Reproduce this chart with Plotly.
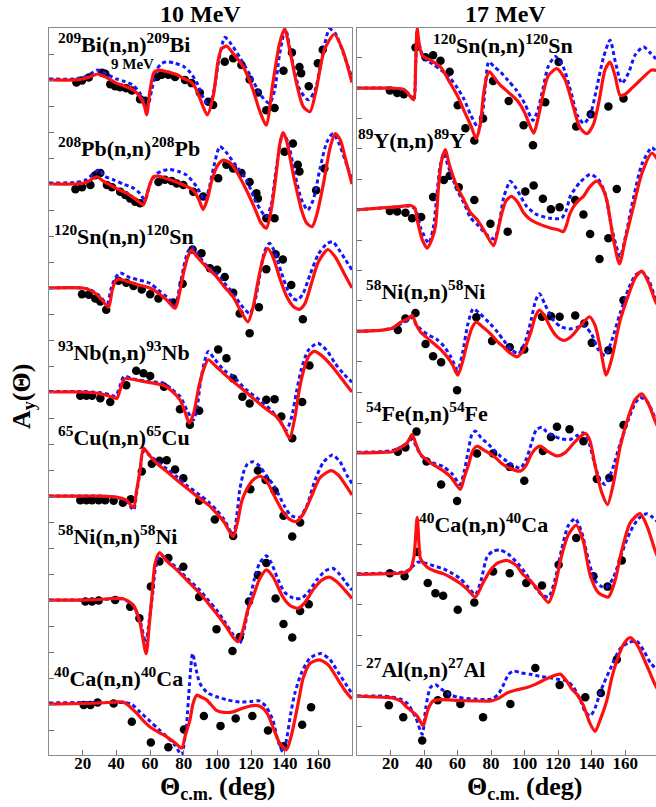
import plotly.graph_objects as go

W, H = 656, 807
FONT = "Liberation Serif"

# ---------------- data (angle in deg, A_y) ----------------
# LEFT PANEL: 10 MeV
BI209_RED = [(0,0),(15,0),(20,0.02),(25,0.07),(29,0.115),(34,0.05),(40,-0.06),(45,-0.12),(50,-0.19),(54,-0.32),(56.5,-0.48),(58,-0.67),(60,-0.2),(62.4,0.15),(65,0.19),(70,0.16),(76,0.1),(80,0.03),(84,-0.03),(87,-0.15),(89.6,-0.35),(94,-0.67),(97.5,-0.32),(100.5,0.38),(102.5,0.6),(105.6,0.65),(109.4,0.51),(115.3,0.26),(121.2,-0.19),(125,-0.58),(129,-0.87),(133,-0.06),(137,0.71),(140,0.98),(143,0.58),(147,-0.06),(151,-0.51),(155,-0.61),(158.7,-0.19),(163.6,0.58),(169.5,0.88),(174.4,0.58),(180,-0.05)]
BI209_BLUE = [(0,0.02),(15,0.02),(22,0.07),(29,0.19),(35,0.1),(40,0.02),(45,-0.03),(50,-0.1),(54,-0.25),(58.5,-0.5),(61,-0.2),(64,0.2),(67,0.32),(70,0.35),(75,0.32),(80,0.26),(84,0.14),(88,-0.06),(91,-0.3),(95,-0.5),(98,-0.2),(101,0.4),(104.5,0.82),(108,0.7),(114,0.4),(120,0.06),(126,-0.3),(131,-0.45),(134,-0.2),(137,0.5),(140.5,0.98),(144,0.45),(149,-0.19),(154,-0.38),(158,-0.2),(162,0.4),(166.6,0.98),(170,0.9),(175,0.5),(180,0.04)]
BI209_DOTS = [(16.3,-0.05),(19.6,-0.01),(23.6,0.05),(31.5,0.14),(33.4,0.12),(36.4,-0.08),(39.3,-0.12),(42.3,-0.14),(45.9,-0.16),(49.2,-0.2),(54.1,-0.37),(57.1,-0.4),(64,0.06),(67,0.1),(70.9,0.1),(74.9,0.06),(80.8,0),(84.7,-0.06),(89.6,-0.245),(94.6,-0.42),(97.5,-0.48),(104.4,0.35),(109.4,0.42),(114.3,0.29),(119.2,0.01),(124.1,-0.24),(129.1,-0.58),(134,-0.54),(139.3,0.18),(144.3,0.53),(148.8,0.25),(149.8,0.13),(154.3,-0.12),(159.7,0.32),(162.6,0.58)]

PB208_RED = [(0,0),(15,0),(22,0.03),(28.5,0.14),(32,0.06),(36.4,-0.02),(41,-0.1),(46.3,-0.18),(52.2,-0.31),(56.1,-0.4),(59,-0.1),(62,0.14),(65,0.15),(70,0.1),(77.8,0.01),(85.7,-0.12),(89,-0.3),(91.6,-0.49),(94,-0.3),(97,0.1),(100,0.35),(103.4,0.46),(108,0.4),(113,0.15),(117.3,-0.12),(122,-0.45),(126,-0.75),(129.1,-0.85),(132,-0.5),(135,0.2),(137,0.75),(139,0.99),(141,0.85),(145,0.2),(150,-0.5),(153,-0.75),(156.3,-0.82),(159,-0.6),(163,0),(167,0.7),(170,0.97),(173,0.85),(176,0.5),(180,0)]
PB208_BLUE = [(0,0.02),(15,0.03),(22,0.08),(29.5,0.27),(33,0.15),(38.4,0.08),(44,0.0),(50.2,-0.08),(54,-0.18),(57,-0.31),(60,0),(64,0.2),(68,0.26),(71.9,0.28),(77,0.24),(81.8,0.17),(87.7,-0.05),(92.6,-0.31),(95,-0.1),(98,0.35),(101.5,0.72),(105,0.62),(110,0.4),(117.3,0.08),(123,-0.35),(129,-0.63),(132,-0.4),(135,0.3),(139,0.97),(142,0.8),(146,0.2),(150,-0.3),(153.7,-0.5),(157,-0.3),(161,0.3),(165,0.8),(168.6,0.97),(172,0.8),(176,0.45),(180,0.08)]
PB208_DOTS = [(15.7,-0.1),(19.6,-0.06),(24.6,-0.02),(27.5,0.17),(30.5,0.21),(34.4,-0.02),(37.4,-0.06),(42.3,-0.15),(45.3,-0.21),(48.2,-0.28),(51.2,-0.34),(54.1,-0.37),(65,0.04),(68.9,0.08),(72.9,0.06),(75.9,0.01),(79.8,-0.02),(85.7,-0.15),(91.6,-0.24),(100.5,0.11),(105.4,0.37),(109.4,0.3),(114.3,0.21),(119.2,0.04),(123.2,-0.18),(124.1,-0.28),(129.1,-0.66),(134,-0.66),(139.9,0.62),(144.9,0.78),(147.8,0.37),(148.8,0.24),(158.7,-0.12),(163.6,0.3)]

SN120L_RED = [(0,0),(20,0),(25,-0.05),(28.5,-0.13),(32,-0.25),(35.4,-0.37),(37.5,-0.05),(39.3,0.12),(41.3,0.17),(46,0.13),(52,0.07),(60,0),(65,-0.1),(70,-0.23),(74.9,-0.39),(77.5,-0.1),(80,0.3),(82.5,0.6),(84.7,0.73),(88,0.6),(93,0.42),(99.5,0.22),(104,0.03),(109.4,-0.17),(114,-0.45),(118.2,-0.65),(121,-0.4),(124,0.1),(127,0.55),(130,0.76),(133,0.6),(137,0.2),(141,-0.15),(145,-0.35),(148.8,-0.41),(152,-0.3),(156,0.1),(160,0.5),(165.6,0.74),(170,0.6),(175,0.3),(180,0)]
SN120L_BLUE = [(0,0),(20,0),(25,-0.04),(30,-0.15),(34.5,-0.3),(37,0),(39.5,0.2),(42.3,0.29),(48,0.2),(54,0.15),(60,0.09),(65,-0.04),(70,-0.17),(74.9,-0.33),(77.5,0),(80,0.4),(82.5,0.7),(84.7,0.79),(88,0.66),(93,0.45),(99.5,0.28),(104,0.1),(109.4,-0.1),(114,-0.32),(119.2,-0.49),(122,-0.3),(125,0.2),(128,0.7),(131,0.86),(134,0.7),(138,0.3),(142,-0.05),(145,-0.2),(147.8,-0.23),(151,-0.1),(155,0.25),(160,0.65),(165,0.85),(168.5,0.89),(172,0.75),(176,0.55),(180,0.35)]
SN120L_DOTS = [(19.6,-0.12),(23.6,-0.13),(27.5,-0.2),(30.5,-0.26),(34,-0.42),(41.3,0.14),(45.9,0.1),(50.2,0.04),(55.1,-0.03),(60.1,-0.12),(65,-0.2),(73.8,-0.28),(79.4,0.08),(85.3,0.74),(90.6,0.67),(95.6,0.38),(99.9,0.35),(104.4,0.21),(109.4,-0.09),(113.3,-0.49),(119.2,-0.87),(124.7,-0.37),(129.1,0.36),(134.6,0.65),(138.9,0.55),(143.9,0.06),(150.8,-0.6)]

NB93_RED = [(0,0),(20,0),(30,-0.03),(36,-0.08),(40.3,-0.12),(42.3,0.05),(44.3,0.23),(46,0.26),(55,0.21),(62,0.17),(68,0.13),(73,0.02),(77.8,-0.15),(81,-0.4),(83.3,-0.6),(86,-0.4),(89,0.1),(92,0.45),(94.6,0.62),(99,0.5),(104,0.35),(109.4,0.2),(117,0),(125,-0.22),(130,-0.35),(135,-0.47),(139,-0.65),(142.9,-0.89),(146,-0.5),(149,0.1),(152,0.5),(154.5,0.7),(157.7,0.78),(162,0.7),(168,0.5),(174,0.25),(180,0)]
NB93_BLUE = [(0,0.01),(20,0.01),(30,-0.01),(36,-0.05),(39.5,-0.08),(42,0.1),(44.5,0.3),(50,0.25),(60,0.2),(68,0.17),(73,0.05),(77.8,-0.08),(82,-0.35),(85.7,-0.54),(88,-0.3),(90,0.2),(92.5,0.6),(94.6,0.78),(98,0.65),(104,0.42),(109.4,0.3),(117,0.05),(125,-0.15),(132,-0.35),(137,-0.55),(141,-0.73),(144,-0.5),(147,0),(150,0.45),(154,0.8),(159.7,0.94),(165,0.8),(170,0.55),(175,0.35),(180,0.19)]
NB93_DOTS = [(18.6,-0.07),(22.2,-0.07),(25.6,-0.07),(30.5,-0.12),(36.4,-0.19),(45.9,0.13),(51.8,0.41),(56.1,0.36),(60.1,0.31),(68.3,0.1),(77.8,-0.33),(83.7,-0.63),(89.2,-0.36),(100.5,0.82),(105.4,0.65),(109.4,0.26),(114.9,-0.09),(119.2,-0.22),(129.1,-0.15),(134,-0.14),(138,-0.47),(144.5,-0.89),(150.4,-0.19),(154.7,0.51)]

CU65_RED = [(0,0),(20,0),(30,0),(40,-0.02),(46,-0.08),(50.2,-0.22),(52,0.1),(54.1,0.5),(56.1,0.92),(60,0.77),(64,0.63),(70,0.47),(75.9,0.31),(82,0.15),(89.6,-0.05),(95,-0.18),(99.5,-0.33),(104,-0.5),(109.4,-0.78),(112,-0.5),(114.5,-0.1),(117.3,0.12),(121,0.3),(125.1,0.38),(129,0.3),(134,-0.01),(139,-0.3),(143,-0.45),(146.9,-0.49),(151,-0.35),(156,0),(161,0.35),(167.6,0.49),(172,0.4),(176,0.22),(180,0.02)]
CU65_BLUE = [(0,0),(20,0),(30,0),(40,-0.03),(46,-0.1),(50.2,-0.27),(52,0.05),(54,0.45),(56.1,0.86),(60,0.78),(64,0.67),(70,0.52),(75.9,0.37),(82,0.2),(89.6,0.02),(95,-0.12),(99.5,-0.27),(104,-0.45),(109.4,-0.75),(111.5,-0.4),(113.3,0.12),(116,0.5),(118,0.62),(121.2,0.66),(125,0.58),(129,0.4),(134,0.18),(140,-0.2),(144,-0.38),(148.8,-0.41),(153,-0.2),(158,0.3),(163,0.65),(168.5,0.79),(173,0.65),(177,0.4),(180,0.24)]
CU65_DOTS = [(18.6,-0.08),(22.2,-0.08),(25.6,-0.08),(29.5,-0.08),(33.4,-0.08),(38.4,-0.09),(43.9,-0.13),(48.6,-0.06),(55.1,0.47),(61.1,0.62),(65.6,0.68),(69.9,0.69),(74.9,0.51),(79.8,0.34),(89.2,-0.09),(98.5,-0.45),(109.4,-0.77),(119.6,0.13),(124.1,0.49),(128.7,0.31),(134,0.1),(139.3,-0.38),(144.5,-0.78),(149.2,-0.51)]

NI58L_RED = [(0,0),(20,0),(30,0.01),(38,0.03),(43.6,0.03),(47,-0.02),(50.2,-0.1),(54.1,-0.45),(57.7,-1.03),(59.5,-0.5),(61.1,0.06),(63,0.7),(65.6,0.91),(70,0.75),(75.9,0.58),(82,0.38),(89.6,0.13),(95,-0.08),(99.5,-0.26),(105,-0.5),(109,-0.7),(112.3,-0.8),(115,-0.6),(118,-0.2),(121.2,0.06),(125,0.4),(129.1,0.58),(133,0.45),(138.9,0.06),(143,-0.1),(147.8,-0.16),(152,-0.05),(157,0.2),(162,0.38),(166.6,0.44),(171,0.35),(176,0.18),(180,0.03)]
NI58L_BLUE = [(0,0),(20,0),(30,0.01),(38,0.02),(44,0.02),(47,-0.03),(51,-0.15),(54.5,-0.45),(57.5,-0.83),(59.5,-0.4),(61.5,0.1),(63.5,0.65),(66.5,0.87),(70,0.77),(75.9,0.62),(82,0.42),(89.6,0.19),(95,-0.02),(99.5,-0.19),(105,-0.45),(109,-0.65),(113.3,-0.83),(116,-0.55),(119,-0.05),(122,0.4),(125,0.7),(129.1,0.85),(132,0.72),(136,0.4),(140,0.15),(145,0.04),(149.8,0.03),(154,0.15),(159,0.38),(164,0.56),(168.5,0.61),(172,0.52),(176,0.35),(180,0.19)]
NI58L_DOTS = [(21.6,-0.03),(25.6,-0.03),(29.5,-0.01),(39.3,0),(48.2,-0.13),(53.7,-0.35),(60.5,0.26),(65.6,0.74),(70.9,0.81),(79.8,0.64),(89.2,0.06),(99.5,-0.56),(109,-0.98),(113.3,-0.71),(118.8,-0.03),(124.1,0.48),(129.1,0.71),(134.6,0.03),(139.3,-0.46),(144.5,-0.72),(149.2,-0.21),(154.3,-0.08)]

CA40L_RED = [(0,0),(20,0.01),(30,0.02),(40,0.04),(44,0.04),(48,-0.05),(52.2,-0.18),(56,-0.32),(60,-0.44),(65,-0.54),(70,-0.63),(75,-0.75),(78.8,-0.85),(81,-0.6),(83.7,-0.31),(85.5,0),(87.7,0.17),(90,0.14),(93.6,0.08),(99.5,-0.12),(104,-0.16),(109.4,-0.15),(115,-0.08),(121.2,-0.03),(124,-0.03),(127.1,-0.08),(130,-0.2),(133,-0.44),(137,-0.75),(141,-0.88),(144,-0.6),(148.4,0.08),(151,0.5),(155,0.78),(160.7,0.85),(166,0.75),(172,0.45),(176,0.25),(180,0.1)]
CA40L_BLUE = [(0,0.02),(20,0.03),(30,0.03),(40,0.03),(45,0.03),(49,0),(54,-0.15),(60,-0.33),(65,-0.48),(70,-0.63),(75,-0.8),(78.8,-0.98),(80.5,-0.7),(81.8,-0.37),(83.5,0.4),(85.3,0.97),(87.5,0.65),(89.6,0.4),(94,0.22),(99.5,0.14),(106,0.08),(113.3,0.04),(120,0.05),(125,0.06),(129,-0.05),(133,-0.31),(136,-0.7),(138.9,-0.92),(141,-0.7),(143.5,-0.2),(146,0.2),(150,0.6),(155,0.88),(161.7,0.97),(167,0.85),(172,0.6),(176,0.4),(180,0.2)]
CA40L_DOTS = [(20.6,-0.02),(24.6,-0.02),(28.9,0.03),(38.4,0.01),(49.2,-0.34),(60.5,-0.74),(70.9,-0.83),(80.2,-0.49),(92,-0.23),(101.9,-0.42),(110.9,-0.28),(120.8,-0.23),(130.1,-0.51),(139.3,-0.81),(150.4,-0.4),(155.7,-0.06)]

# RIGHT PANEL: 17 MeV
SN120R_RED = [(0,0),(20,0),(28,-0.02),(31.9,-0.14),(33.9,-0.19),(35,0.4),(35.9,0.98),(37,0.75),(38.9,0.54),(43.8,0.46),(49.8,0.35),(55.7,0.08),(60,-0.13),(63.7,-0.36),(68,-0.62),(71.2,-0.83),(73.5,-0.6),(75.5,-0.1),(77.5,0.2),(79.2,0.27),(82,0.17),(85.5,0.05),(90,-0.06),(95.5,-0.2),(100,-0.4),(105.4,-0.74),(108,-0.5),(111,-0.1),(114,0.2),(119.3,0.32),(124,0.15),(129,-0.3),(133,-0.65),(137.2,-0.75),(141,-0.6),(144.5,-0.2),(148,0.3),(151,0.43),(154,0.2),(157,-0.12),(160,-0.1),(164,0.0),(168.9,0.13),(175.9,0.3),(180,0.28)]
SN120R_BLUE = [(0,0),(20,0),(28,-0.03),(31.9,-0.12),(33.9,-0.2),(35,0.4),(35.9,0.96),(37,0.72),(40,0.5),(45,0.4),(50,0.3),(55.7,0.16),(60,0),(64,-0.19),(68,-0.45),(72.6,-0.66),(75,-0.4),(76.8,0.1),(78.6,0.43),(82,0.35),(85.5,0.27),(90,0.13),(95,-0.03),(100,-0.25),(105,-0.53),(108,-0.35),(111,0),(114,0.35),(118.3,0.52),(123,0.35),(128,-0.1),(131.5,-0.45),(135.2,-0.58),(139,-0.45),(143,0),(147,0.5),(151,0.79),(154,0.45),(158,0.08),(162,0.25),(166,0.55),(170.9,0.68),(175,0.58),(180,0.43)]
SN120R_DOTS = [(19.6,-0.04),(24,-0.08),(27.9,-0.1),(34.9,0.67),(40.9,0.51),(45.4,0.54),(49.8,0.45),(55.3,0.27),(60.1,-0.28),(64.7,-0.66),(70,-0.86),(75.2,-0.5),(81.2,0.12),(90.5,-0.21),(99.4,-0.61),(105,-0.94),(112.3,-0.23),(120.3,0.43),(130.8,-0.63),(139.5,-0.43),(150,-0.3),(159,-0.17)]

Y89_RED = [(0,0),(15,0.03),(25,0.05),(32,0.07),(34.5,0.03),(35.9,-0.16),(38.9,-0.49),(41.9,-0.63),(44.5,-0.5),(46.8,-0.27),(48.8,0.44),(50.8,0.85),(52.8,0.99),(55,0.75),(59.7,0.38),(64,0.15),(67.7,-0.05),(71.6,-0.16),(76,-0.35),(81.5,-0.59),(84,-0.35),(86.5,-0.05),(89,0.15),(92.1,0.22),(96,0.12),(99.4,-0.05),(103.4,-0.16),(107.4,-0.22),(115.3,-0.3),(120,-0.33),(123.2,-0.36),(125,-0.25),(127.2,-0.05),(131,0.12),(135.1,0.22),(139,0.38),(143.1,0.47),(146,0.38),(149,0.16),(153,-0.49),(156.6,-0.89),(160,-0.5),(164.9,0.05),(170,0.6),(175.9,0.93),(180,0.8)]
Y89_BLUE = [(0,0),(15,0.03),(25,0.05),(32,0.06),(35,0.0),(38,-0.3),(42.8,-0.55),(45.5,-0.3),(47.5,0.2),(49.5,0.7),(51.8,0.93),(54,0.75),(59.7,0.33),(64,0.1),(67.7,-0.13),(72,-0.25),(77,-0.4),(82,-0.48),(85,-0.2),(87.5,0.2),(91.5,0.47),(95,0.35),(101.4,0.05),(107.4,-0.08),(115.3,-0.14),(122,-0.14),(125,0.0),(127.2,0.22),(133,0.45),(139.1,0.58),(144,0.5),(148,0.27),(152,-0.3),(157,-0.77),(160.5,-0.4),(165,0.2),(170,0.75),(175.9,1.02),(180,0.9)]
Y89_DOTS = [(19.6,-0.02),(24,-0.03),(28.9,-0.05),(32.9,-0.14),(38.3,-0.12),(45.4,0.21),(51.8,0.49),(55.3,0.56),(60.7,0.37),(70,0.16),(79.6,-0.23),(89.9,-0.36),(100.4,0.3),(105.4,0.4),(110.9,0.18),(115.7,0.01),(120.9,0.04),(130.2,0.16),(135.1,-0.08),(139.1,-0.4),(144.7,-0.81),(150,-0.47),(155,0.34)]

NI58R_RED = [(0,0),(15,0.02),(21,0.05),(26,0.15),(30,0.2),(32.9,0.26),(35.5,0.1),(37.9,-0.01),(41.5,-0.1),(45.8,-0.2),(50,-0.3),(53.8,-0.42),(57,-0.55),(60.1,-0.72),(63,-0.5),(65.7,-0.2),(68.5,0.05),(71.2,0.15),(75,0.07),(79.6,-0.04),(83.5,-0.16),(87.5,-0.26),(91.5,-0.36),(95.5,-0.42),(99.5,-0.3),(103.4,-0.04),(106.5,0.25),(108.9,0.35),(112,0.25),(115.3,0.07),(119,-0.08),(123.2,-0.15),(128,-0.08),(133,0.08),(138.7,0.24),(142,0.1),(145,-0.25),(148.7,-0.72),(152,-0.45),(157,0.18),(162,0.6),(166,0.88),(169.9,0.99),(174,0.8),(177.8,0.51),(180,0.4)]
NI58R_BLUE = [(0,0),(15,0.02),(21,0.05),(26,0.12),(30,0.18),(32.9,0.23),(35.5,0.1),(37.9,0.04),(42,-0.05),(47.5,-0.13),(52,-0.25),(56,-0.42),(60.1,-0.64),(63,-0.35),(66,0.1),(69.3,0.37),(73,0.3),(79.6,0.12),(84,-0.02),(87.5,-0.15),(92,-0.3),(96.4,-0.37),(100,-0.2),(104,0.2),(106.5,0.5),(108.9,0.62),(112,0.45),(117.3,0.18),(122,0.07),(127.2,0.04),(131,0.06),(135.1,0.1),(140,-0.05),(144,-0.3),(148.1,-0.4),(152,-0.15),(157,0.3),(162,0.7),(166,0.92),(169.9,0.98),(174,0.85),(177.8,0.56),(180,0.45)]
NI58R_DOTS = [(24.4,0.02),(28.9,0.21),(34.9,0.3),(40.9,-0.21),(45.4,-0.41),(50.2,-0.51),(59.7,-0.97),(71.2,0.23),(80.6,-0.16),(91.1,-0.26),(99.8,-0.3),(110.4,0.24),(115.7,0.25),(120.9,0.24),(130.2,0.26),(135.6,0.13),(140.1,-0.19),(150,-0.31),(159,0.51)]

FE54_RED = [(0,0),(15,0.01),(21,0.02),(26,0.09),(30,0.17),(32.9,0.3),(35.5,0.12),(37.9,-0.02),(43.8,-0.16),(51.8,-0.3),(56,-0.4),(61.7,-0.6),(64,-0.4),(66.5,-0.2),(69,0.03),(71.6,0.11),(76,0.04),(81.5,-0.05),(85,-0.14),(89.5,-0.23),(97.4,-0.3),(101,-0.2),(104,-0.02),(107,0.08),(109.4,0.11),(113,0.04),(119.3,-0.05),(124,0.0),(130,0.18),(136.2,0.32),(139,0.2),(142,-0.2),(146,-0.65),(149.5,-0.85),(153,-0.5),(157,0.1),(162,0.6),(166,0.88),(169.9,0.97),(174,0.8),(177.8,0.53),(180,0.4)]
FE54_BLUE = [(0,0.01),(15,0.02),(21,0.04),(26,0.09),(30,0.15),(32.9,0.23),(35.5,0.1),(38.5,-0.05),(44,-0.15),(51.8,-0.23),(57,-0.35),(61.5,-0.52),(64,-0.3),(66.5,0.05),(68.5,0.3),(70.6,0.36),(74,0.25),(79.6,0.11),(85,-0.04),(89.5,-0.14),(97.4,-0.25),(101,-0.1),(104,0.15),(107,0.38),(110.4,0.42),(113,0.35),(117.3,0.28),(122,0.23),(127.2,0.22),(131,0.28),(135.1,0.33),(138,0.2),(142,-0.2),(145,-0.45),(148.1,-0.52),(152,-0.3),(157,0.15),(162,0.55),(166,0.82),(168.9,0.91),(173,0.85),(177.8,0.58),(180,0.45)]
FE54_DOTS = [(24.4,0.02),(28.9,0.09),(35.5,0.35),(41.5,-0.14),(50.2,-0.52),(59.7,-0.79),(71.6,-0.01),(81.2,-0.01),(91.1,-0.23),(99.8,-0.46),(110.9,0.03),(115.7,0.26),(119.3,0.43),(126.8,0.39),(135.1,0.19),(143.1,-0.43),(150.6,-0.41),(159,0.46)]

CA40R_RED = [(0,0),(15,0.01),(25,0.02),(30,0.05),(31.9,0.09),(34,0.3),(35.9,0.94),(37,0.5),(37.9,0.26),(41.9,0.12),(46,0.06),(51.8,0.01),(56,-0.05),(61.7,-0.15),(66,-0.25),(70.6,-0.37),(75,-0.15),(79.6,0.07),(84,0.19),(89.5,0.23),(95,0.15),(99,0.0),(103.4,-0.1),(108,-0.25),(114.3,-0.46),(118,-0.2),(122,0.3),(126,0.65),(130.8,0.81),(135,0.55),(139,0.0),(144,-0.3),(150,-0.37),(154,-0.1),(158,0.4),(163,0.85),(168.9,1.0),(173,0.8),(177.8,0.4),(180,0.25)]
CA40R_BLUE = [(0,0.01),(15,0.02),(25,0.03),(30,0.06),(32,0.1),(35.9,0.2),(38.5,0.2),(41.9,0.18),(46,0.14),(51.8,0.09),(56,0.03),(61.7,-0.07),(66,-0.2),(70.6,-0.33),(74,-0.1),(77.6,0.29),(81,0.38),(85.5,0.4),(90,0.34),(96,0.18),(101,0.0),(106,-0.2),(110,-0.33),(114.3,-0.37),(118,-0.1),(122,0.4),(126,0.8),(130.2,0.92),(134,0.7),(138,0.25),(142,-0.1),(146,-0.2),(149.1,-0.21),(153,-0.05),(158,0.35),(163,0.7),(168,0.92),(172.9,1.0),(176,0.95),(180,0.85)]
CA40R_DOTS = [(19.6,0.02),(28.4,-0.03),(35.9,0.37),(42.2,-0.14),(46.8,-0.31),(51.4,-0.35),(60.1,-0.58),(70,-0.46),(81.2,0.05),(91.1,0.02),(101,-0.14),(110.4,-0.18),(120.3,0.16),(130.8,0.6),(141.1,-0.03),(149.5,-0.2),(158,0.23)]

AL27_RED = [(0,0),(15,-0.02),(21,-0.03),(26,-0.08),(30,-0.19),(35.9,-0.33),(39.5,-0.49),(41,-0.35),(42.8,-0.19),(45.5,-0.08),(50,-0.06),(60,-0.07),(70,-0.08),(80,-0.08),(85,-0.03),(89.5,0.05),(95,0.1),(101.4,0.14),(107,0.2),(112,0.27),(117,0.33),(121.3,0.36),(125,0.25),(128,0.12),(131.2,0.03),(135,-0.15),(139,-0.45),(142.1,-0.58),(145,-0.4),(149,-0.08),(152,0.3),(155,0.58),(159,0.85),(163,0.96),(167,0.85),(170.9,0.63),(174.5,0.4),(177.8,0.19),(180,0.08)]
AL27_BLUE = [(0,0),(15,0),(21,-0.02),(26,-0.05),(30,-0.12),(35,-0.35),(38.9,-0.63),(41,-0.2),(43.8,0.14),(46.8,0.19),(50,0.12),(55,0.03),(60,-0.02),(70,-0.05),(80,-0.05),(84,0.02),(87.5,0.19),(90.5,0.36),(93.5,0.41),(98,0.38),(103.4,0.36),(110,0.32),(115.3,0.3),(121,0.27),(125,0.25),(129,0.15),(133,-0.05),(136,-0.25),(139.1,-0.33),(142,-0.2),(145,0.05),(147,0.19),(152,0.5),(157,0.78),(162,0.88),(167,0.9),(171,0.75),(175,0.55),(180,0.4)]
AL27_DOTS = [(19,-0.15),(27.6,-0.35),(38.9,-0.73),(48.2,-0.07),(53.8,0.03),(61.7,-0.13),(75.2,-0.35),(91.5,-0.13),(106.4,0.46),(120.9,0.18),(136.2,-0.02),(145.5,0.05),(155,0.6)]

LEFT_LABELS = ["<sup>209</sup>Bi(n,n)<sup>209</sup>Bi", "<sup>208</sup>Pb(n,n)<sup>208</sup>Pb",
               "<sup>120</sup>Sn(n,n)<sup>120</sup>Sn", "<sup>93</sup>Nb(n,n)<sup>93</sup>Nb",
               "<sup>65</sup>Cu(n,n)<sup>65</sup>Cu", "<sup>58</sup>Ni(n,n)<sup>58</sup>Ni",
               "<sup>40</sup>Ca(n,n)<sup>40</sup>Ca"]
RIGHT_LABELS = ["<sup>120</sup>Sn(n,n)<sup>120</sup>Sn", "<sup>89</sup>Y(n,n)<sup>89</sup>Y",
                "<sup>58</sup>Ni(n,n)<sup>58</sup>Ni", "<sup>54</sup>Fe(n,n)<sup>54</sup>Fe",
                "<sup>40</sup>Ca(n,n)<sup>40</sup>Ca", "<sup>27</sup>Al(n,n)<sup>27</sup>Al"]
X_TICKS = [20, 40, 60, 80, 100, 120, 140, 160]
PANEL_TITLES = ["10 MeV", "17 MeV"]

LEFT_SETS = [(BI209_RED, BI209_BLUE, BI209_DOTS), (PB208_RED, PB208_BLUE, PB208_DOTS),
             (SN120L_RED, SN120L_BLUE, SN120L_DOTS), (NB93_RED, NB93_BLUE, NB93_DOTS),
             (CU65_RED, CU65_BLUE, CU65_DOTS), (NI58L_RED, NI58L_BLUE, NI58L_DOTS),
             (CA40L_RED, CA40L_BLUE, CA40L_DOTS)]
RIGHT_SETS = [(SN120R_RED, SN120R_BLUE, SN120R_DOTS), (Y89_RED, Y89_BLUE, Y89_DOTS),
              (NI58R_RED, NI58R_BLUE, NI58R_DOTS), (FE54_RED, FE54_BLUE, FE54_DOTS),
              (CA40R_RED, CA40R_BLUE, CA40R_DOTS), (AL27_RED, AL27_BLUE, AL27_DOTS)]
OFFSET_STEP = 2.0

# ---------------- figure ----------------
fig = go.Figure()

def add_sets(sets, xa, ya):
    for k, (red, blue, dots) in enumerate(sets):
        off = -OFFSET_STEP * k
        fig.add_trace(go.Scatter(x=[p[0] for p in dots], y=[p[1] + off for p in dots], mode="markers",
                                 marker=dict(color="black", size=8.5), xaxis=xa, yaxis=ya,
                                 showlegend=False, cliponaxis=True))
        fig.add_trace(go.Scatter(x=[p[0] for p in blue], y=[p[1] + off for p in blue], mode="lines",
                                 line=dict(color="#1414ff", width=3, dash="4px,3px", shape="spline", smoothing=0.7),
                                 xaxis=xa, yaxis=ya, showlegend=False))
        fig.add_trace(go.Scatter(x=[p[0] for p in red], y=[p[1] + off for p in red], mode="lines",
                                 line=dict(color="#ff1010", width=3.2, shape="spline", smoothing=0.7),
                                 xaxis=xa, yaxis=ya, showlegend=False))

add_sets(LEFT_SETS, "x", "y")
add_sets(RIGHT_SETS, "x2", "y2")

def px(x):
    return x / W

def py(y):
    return 1 - y / H

Y_DOM = [(H - 755) / H, (H - 28) / H]
axis_common = dict(showline=True, linecolor="#8c8c8c", linewidth=1, showgrid=False, zeroline=False,
                   ticks="inside", ticklen=5, tickcolor="#707070")

tick_text = ["<b>%d</b>" % v for v in X_TICKS]
fig.update_layout(
    width=W, height=H, margin=dict(l=0, r=0, t=0, b=0),
    paper_bgcolor="white", plot_bgcolor="white", showlegend=False,
    xaxis=dict(domain=[49 / W, 352 / W], range=[0, 180], anchor="y", mirror=True,
               tickvals=X_TICKS, ticktext=tick_text, automargin=False, ticklabelstandoff=-7,
               tickfont=dict(family=FONT, size=17, color="black"), **axis_common),
    yaxis=dict(domain=Y_DOM, range=[-12.98, 1.0], anchor="x", mirror=True, dtick=0.5, tick0=0,
               showticklabels=False, automargin=False, **axis_common),
    xaxis2=dict(domain=[357 / W, 1.0], range=[0, 178.4], anchor="y2", mirror=True,
                tickvals=X_TICKS, ticktext=tick_text, automargin=False, ticklabelstandoff=-7,
                tickfont=dict(family=FONT, size=17, color="black"), **axis_common),
    yaxis2=dict(domain=Y_DOM, range=[-10.97, 0.99], anchor="x2", mirror=False, dtick=0.5, tick0=0,
                showticklabels=False, automargin=False, **axis_common),
)

ann = []
def add_text(text, x, y, size, xanchor="left", angle=0):
    ann.append(dict(text="<b>%s</b>" % text, x=px(x), y=py(y), xref="paper", yref="paper",
                    xanchor=xanchor, yanchor="middle", showarrow=False, textangle=angle,
                    font=dict(family=FONT, size=size, color="black")))

LEFT_POS = [(56, 43), (56, 147), (52, 235), (56, 351), (56, 436), (56, 535), (52, 677)]
RIGHT_POS = [(431, 44), (356, 139), (364, 290), (364, 412), (417, 523), (364, 668)]
for t, (x, y) in zip(LEFT_LABELS, LEFT_POS):
    add_text(t, x, y, 22)
for t, (x, y) in zip(RIGHT_LABELS, RIGHT_POS):
    add_text(t, x, y, 22)
add_text("9 MeV", 132, 64, 15, xanchor="center")
add_text(PANEL_TITLES[0], 200, 14, 24, xanchor="center")
add_text(PANEL_TITLES[1], 505, 14, 24, xanchor="center")
add_text("A<sub>y</sub>(Θ)", 23, 397, 26, xanchor="center", angle=-90)
add_text("Θ<sub>c.m.</sub> (deg)", 217, 788, 26, xanchor="center")
add_text("Θ<sub>c.m.</sub> (deg)", 524, 788, 26, xanchor="center")
fig.update_layout(annotations=ann)

fig.write_html("out.html", config={"displayModeBar": False},
               post_script="document.body.style.margin='0px';document.body.style.overflow='hidden';")
